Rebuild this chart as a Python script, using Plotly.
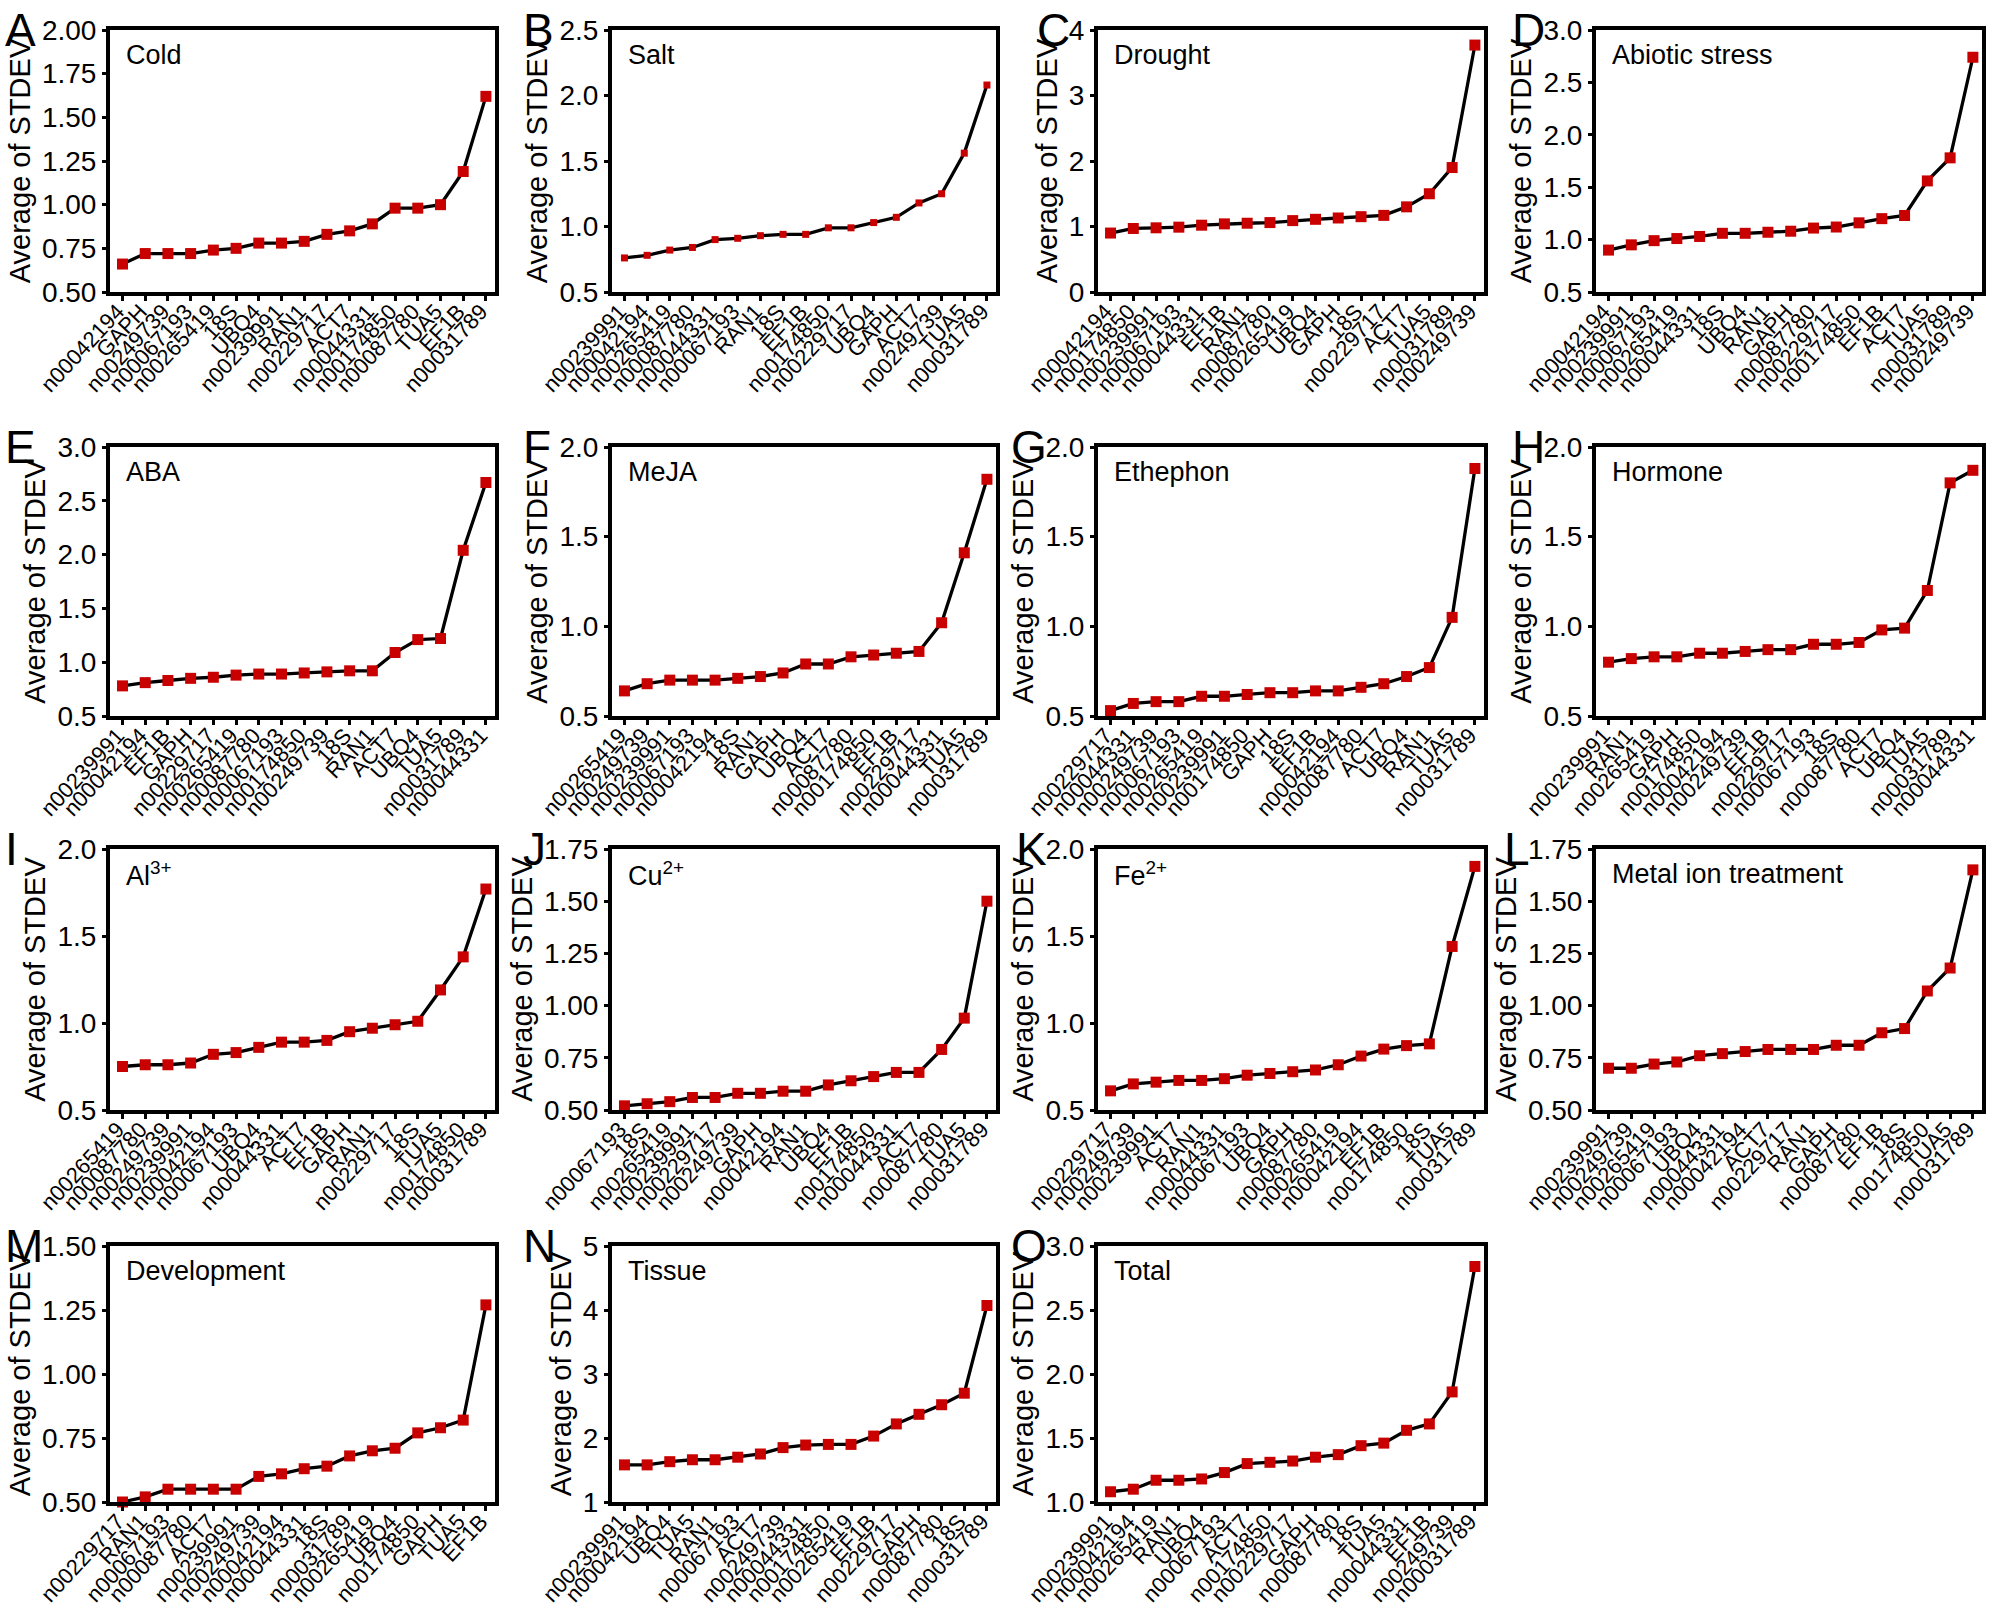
import plotly.graph_objects as go

W, H = 1993, 1615
FONT = "Liberation Sans, Arial, sans-serif"

# ---------------- data ----------------
cold_genes = ["n00042194", "GAPH", "n00249739", "n00067193", "n00265419", "18S", "UBQ4", "n00239991", "RAN1",
              "n00229717", "ACT7", "n00044331", "n00174850", "n00087780", "TUA5", "EF1B", "n00031789"]
cold_vals = [0.66, 0.72, 0.72, 0.72, 0.74, 0.75, 0.78, 0.78, 0.79, 0.83, 0.85, 0.89, 0.98, 0.98, 1.00, 1.19, 1.62]

salt_genes = ["n00239991", "n00042194", "n00265419", "n00087780", "n00044331", "n00067193", "RAN1", "18S", "EF1B",
              "n00174850", "n00229717", "UBQ4", "GAPH", "ACT7", "n00249739", "TUA5", "n00031789"]
salt_vals = [0.76, 0.78, 0.82, 0.84, 0.90, 0.91, 0.93, 0.94, 0.94, 0.99, 0.99, 1.03, 1.07, 1.18, 1.25, 1.56, 2.08]

drought_genes = ["n00042194", "n00174850", "n00239991", "n00067193", "n00044331", "EF1B", "RAN1", "n00087780",
                 "n00265419", "UBQ4", "GAPH", "18S", "n00229717", "ACT7", "TUA5", "n00031789", "n00249739"]
drought_vals = [0.90, 0.97, 0.98, 0.99, 1.02, 1.04, 1.05, 1.06, 1.09, 1.11, 1.13, 1.15, 1.17, 1.30, 1.50, 1.90, 3.77]

abiotic_genes = ["n00042194", "n00239991", "n00067193", "n00265419", "n00044331", "18S", "UBQ4", "RAN1", "GAPH",
                 "n00087780", "n00229717", "n00174850", "EF1B", "ACT7", "TUA5", "n00031789", "n00249739"]
abiotic_vals = [0.90, 0.95, 0.99, 1.01, 1.03, 1.06, 1.06, 1.07, 1.08, 1.11, 1.12, 1.16, 1.20, 1.23, 1.56, 1.78, 2.74]

aba_genes = ["n00239991", "n00042194", "EF1B", "GAPH", "n00229717", "n00265419", "n00087780", "n00067193",
             "n00174850", "n00249739", "18S", "RAN1", "ACT7", "UBQ4", "TUA5", "n00031789", "n00044331"]
aba_vals = [0.78, 0.81, 0.83, 0.85, 0.86, 0.88, 0.89, 0.89, 0.90, 0.91, 0.92, 0.92, 1.09, 1.21, 1.22, 2.04, 2.67]

meja_genes = ["n00265419", "n00249739", "n00239991", "n00067193", "n00042194", "18S", "RAN1", "GAPH", "UBQ4",
              "ACT7", "n00087780", "n00174850", "EF1B", "n00229717", "n00044331", "TUA5", "n00031789"]
meja_vals = [0.64, 0.68, 0.70, 0.70, 0.70, 0.71, 0.72, 0.74, 0.79, 0.79, 0.83, 0.84, 0.85, 0.86, 1.02, 1.41, 1.82]

ethephon_genes = ["n00229717", "n00044331", "n00249739", "n00067193", "n00265419", "n00239991", "n00174850", "GAPH",
                  "18S", "EF1B", "n00042194", "n00087780", "ACT7", "UBQ4", "RAN1", "TUA5", "n00031789"]
ethephon_vals = [0.53, 0.57, 0.58, 0.58, 0.61, 0.61, 0.62, 0.63, 0.63, 0.64, 0.64, 0.66, 0.68, 0.72, 0.77, 1.05, 1.88]

hormone_genes = ["n00239991", "RAN1", "n00265419", "GAPH", "n00174850", "n00042194", "n00249739", "EF1B",
                 "n00229717", "n00067193", "18S", "n00087780", "ACT7", "UBQ4", "TUA5", "n00031789", "n00044331"]
hormone_vals = [0.80, 0.82, 0.83, 0.83, 0.85, 0.85, 0.86, 0.87, 0.87, 0.90, 0.90, 0.91, 0.98, 0.99, 1.20, 1.80, 1.87]

al_genes = ["n00265419", "n00087780", "n00249739", "n00239991", "n00042194", "n00067193", "UBQ4", "n00044331",
            "ACT7", "EF1B", "GAPH", "RAN1", "n00229717", "18S", "TUA5", "n00174850", "n00031789"]
al_vals = [0.75, 0.76, 0.76, 0.77, 0.82, 0.83, 0.86, 0.89, 0.89, 0.90, 0.95, 0.97, 0.99, 1.01, 1.19, 1.38, 1.77]

cu_genes = ["n00067193", "18S", "n00265419", "n00239991", "n00229717", "n00249739", "GAPH", "n00042194", "RAN1",
            "UBQ4", "EF1B", "n00174850", "n00044331", "ACT7", "n00087780", "TUA5", "n00031789"]
cu_vals = [0.52, 0.53, 0.54, 0.56, 0.56, 0.58, 0.58, 0.59, 0.59, 0.62, 0.64, 0.66, 0.68, 0.68, 0.79, 0.94, 1.50]

fe_genes = ["n00229717", "n00249739", "n00239991", "ACT7", "RAN1", "n00044331", "n00067193", "UBQ4", "GAPH",
            "n00087780", "n00265419", "n00042194", "EF1B", "n00174850", "18S", "TUA5", "n00031789"]
fe_vals = [0.61, 0.65, 0.66, 0.67, 0.67, 0.68, 0.70, 0.71, 0.72, 0.73, 0.76, 0.81, 0.85, 0.87, 0.88, 1.44, 1.90]

metal_genes = ["n00239991", "n00249739", "n00265419", "n00067193", "UBQ4", "n00044331", "n00042194", "ACT7",
               "n00229717", "RAN1", "GAPH", "n00087780", "EF1B", "18S", "n00174850", "TUA5", "n00031789"]
metal_vals = [0.70, 0.70, 0.72, 0.73, 0.76, 0.77, 0.78, 0.79, 0.79, 0.79, 0.81, 0.81, 0.87, 0.89, 1.07, 1.18, 1.65]

dev_genes = ["n00229717", "RAN1", "n00067193", "n00087780", "ACT7", "n00239991", "n00249739", "n00042194",
             "n00044331", "18S", "n00031789", "n00265419", "UBQ4", "n00174850", "GAPH", "TUA5", "EF1B"]
dev_vals = [0.50, 0.52, 0.55, 0.55, 0.55, 0.55, 0.60, 0.61, 0.63, 0.64, 0.68, 0.70, 0.71, 0.77, 0.79, 0.82, 1.27]

tissue_genes = ["n00239991", "n00042194", "UBQ4", "TUA5", "RAN1", "n00067193", "ACT7", "n00249739", "n00044331",
                "n00174850", "n00265419", "EF1B", "n00229717", "GAPH", "n00087780", "18S", "n00031789"]
tissue_vals = [1.58, 1.58, 1.63, 1.66, 1.66, 1.70, 1.75, 1.85, 1.89, 1.90, 1.90, 2.03, 2.22, 2.37, 2.52, 2.70, 4.07]

total_genes = ["n00239991", "n00042194", "n00265419", "RAN1", "UBQ4", "n00067193", "ACT7", "n00174850",
               "n00229717", "GAPH", "n00087780", "18S", "TUA5", "n00044331", "EF1B", "n00249739", "n00031789"]
total_vals = [1.08, 1.10, 1.17, 1.17, 1.18, 1.23, 1.30, 1.31, 1.32, 1.35, 1.37, 1.44, 1.46, 1.56, 1.61, 1.86, 2.84]

panel_letters = ["A", "B", "C", "D", "E", "F", "G", "H", "I", "J", "K", "L", "M", "N", "O"]
panel_titles = ["Cold", "Salt", "Drought", "Abiotic stress", "ABA", "MeJA", "Ethephon", "Hormone",
                "Al<sup>3+</sup>", "Cu<sup>2+</sup>", "Fe<sup>2+</sup>", "Metal ion treatment",
                "Development", "Tissue", "Total"]
panel_genes = [cold_genes, salt_genes, drought_genes, abiotic_genes, aba_genes, meja_genes, ethephon_genes,
               hormone_genes, al_genes, cu_genes, fe_genes, metal_genes, dev_genes, tissue_genes, total_genes]
panel_vals = [cold_vals, salt_vals, drought_vals, abiotic_vals, aba_vals, meja_vals, ethephon_vals,
              hormone_vals, al_vals, cu_vals, fe_vals, metal_vals, dev_vals, tissue_vals, total_vals]
y_ranges = [[0.5, 2.0], [0.5, 2.5], [0, 4], [0.5, 3.0], [0.5, 3.0], [0.5, 2.0], [0.5, 2.0], [0.5, 2.0],
            [0.5, 2.0], [0.5, 1.75], [0.5, 2.0], [0.5, 1.75], [0.5, 1.5], [1, 5], [1.0, 3.0]]
y_dticks = [0.25, 0.5, 1, 0.5, 0.5, 0.5, 0.5, 0.5, 0.5, 0.25, 0.5, 0.25, 0.25, 1, 0.5]
y_formats = [".2f", ".1f", "d", ".1f", ".1f", ".1f", ".1f", ".1f", ".1f", ".2f", ".1f", ".2f", ".2f", "d", ".1f"]

# ---------------- layout geometry (pixels) ----------------
cols_px = [(110, 495), (612, 996), (1098, 1484), (1596, 1982)]
rows_px = [(30, 292), (447, 716), (849, 1110), (1246, 1502)]
RED = "#C80000"
TICK_FS = 28


def label_width(s, fs):
    return sum(0.556 if ch.isdigit() else 0.278 for ch in s) * fs


fig = go.Figure()
annotations = []
layout = {}
for i in range(15):
    r, c = divmod(i, 4)
    n = i + 1
    xs = "" if n == 1 else str(n)
    x0, x1 = cols_px[c]
    y0, y1 = rows_px[r]
    genes = panel_genes[i]
    msize = 7 if i == 1 else 11
    fig.add_trace(go.Scatter(
        x=genes, y=panel_vals[i], mode="lines+markers",
        xaxis="x" + xs, yaxis="y" + xs,
        line=dict(color="black", width=3.3),
        marker=dict(symbol="square", size=msize, color=RED),
        cliponaxis=False, showlegend=False, hoverinfo="x+y"))
    layout["xaxis" + xs] = dict(
        domain=[x0 / W, x1 / W], anchor="y" + xs, type="category",
        range=[-0.55, len(genes) - 1 + 0.4],
        tickmode="array", tickvals=genes, ticktext=genes,
        showline=True, mirror=True, linecolor="black", linewidth=4,
        ticks="outside", ticklen=5, tickwidth=3, tickcolor="black",
        tickangle=-47, tickfont=dict(family=FONT, size=22, color="black"),
        ticklabelstandoff=-11, ticklabelshift=-5,
        showgrid=False, zeroline=False, automargin=False)
    lo, hi = y_ranges[i]
    layout["yaxis" + xs] = dict(
        domain=[1 - y1 / H, 1 - y0 / H], anchor="x" + xs,
        range=[lo, hi], tick0=lo, dtick=y_dticks[i], tickformat=y_formats[i],
        showline=True, mirror=True, linecolor="black", linewidth=4,
        ticks="outside", ticklen=4, tickwidth=3, tickcolor="black",
        tickfont=dict(family=FONT, size=TICK_FS, color="black"),
        title=dict(text="Average of STDEV", font=dict(family=FONT, size=29, color="black"), standoff=4),
        showgrid=False, zeroline=False, automargin=False)
    # panel letter
    if c == 0:
        ax, anc = 3, "left"
    elif c == 1:
        ax, anc = 521, "left"
    else:
        if y_formats[i] == "d":
            lab = str(int(hi))
        elif y_formats[i] == ".1f":
            lab = "0.0"
        else:
            lab = "0.00"
        ax, anc = x0 - 7 - label_width(lab, TICK_FS) - 3, "right"
    annotations.append(dict(
        text=panel_letters[i], xref="paper", yref="paper",
        x=ax / W, y=1 - y0 / H, xanchor=anc, yanchor="middle",
        showarrow=False, font=dict(family=FONT, size=46, color="black")))
    annotations.append(dict(
        text=panel_titles[i], xref="paper", yref="paper",
        x=(x0 + 14) / W, y=1 - (y0 + 25) / H, xanchor="left", yanchor="middle",
        showarrow=False, font=dict(family=FONT, size=27, color="black")))

fig.update_layout(
    width=W, height=H, autosize=False, template="none",
    margin=dict(l=0, r=0, t=0, b=0),
    paper_bgcolor="white", plot_bgcolor="white",
    font=dict(family=FONT, color="black"),
    annotations=annotations, **layout)

fig.write_html("out.html", config={"displayModeBar": False},
               post_script="document.body.style.margin='0';document.body.style.overflow='hidden';")
